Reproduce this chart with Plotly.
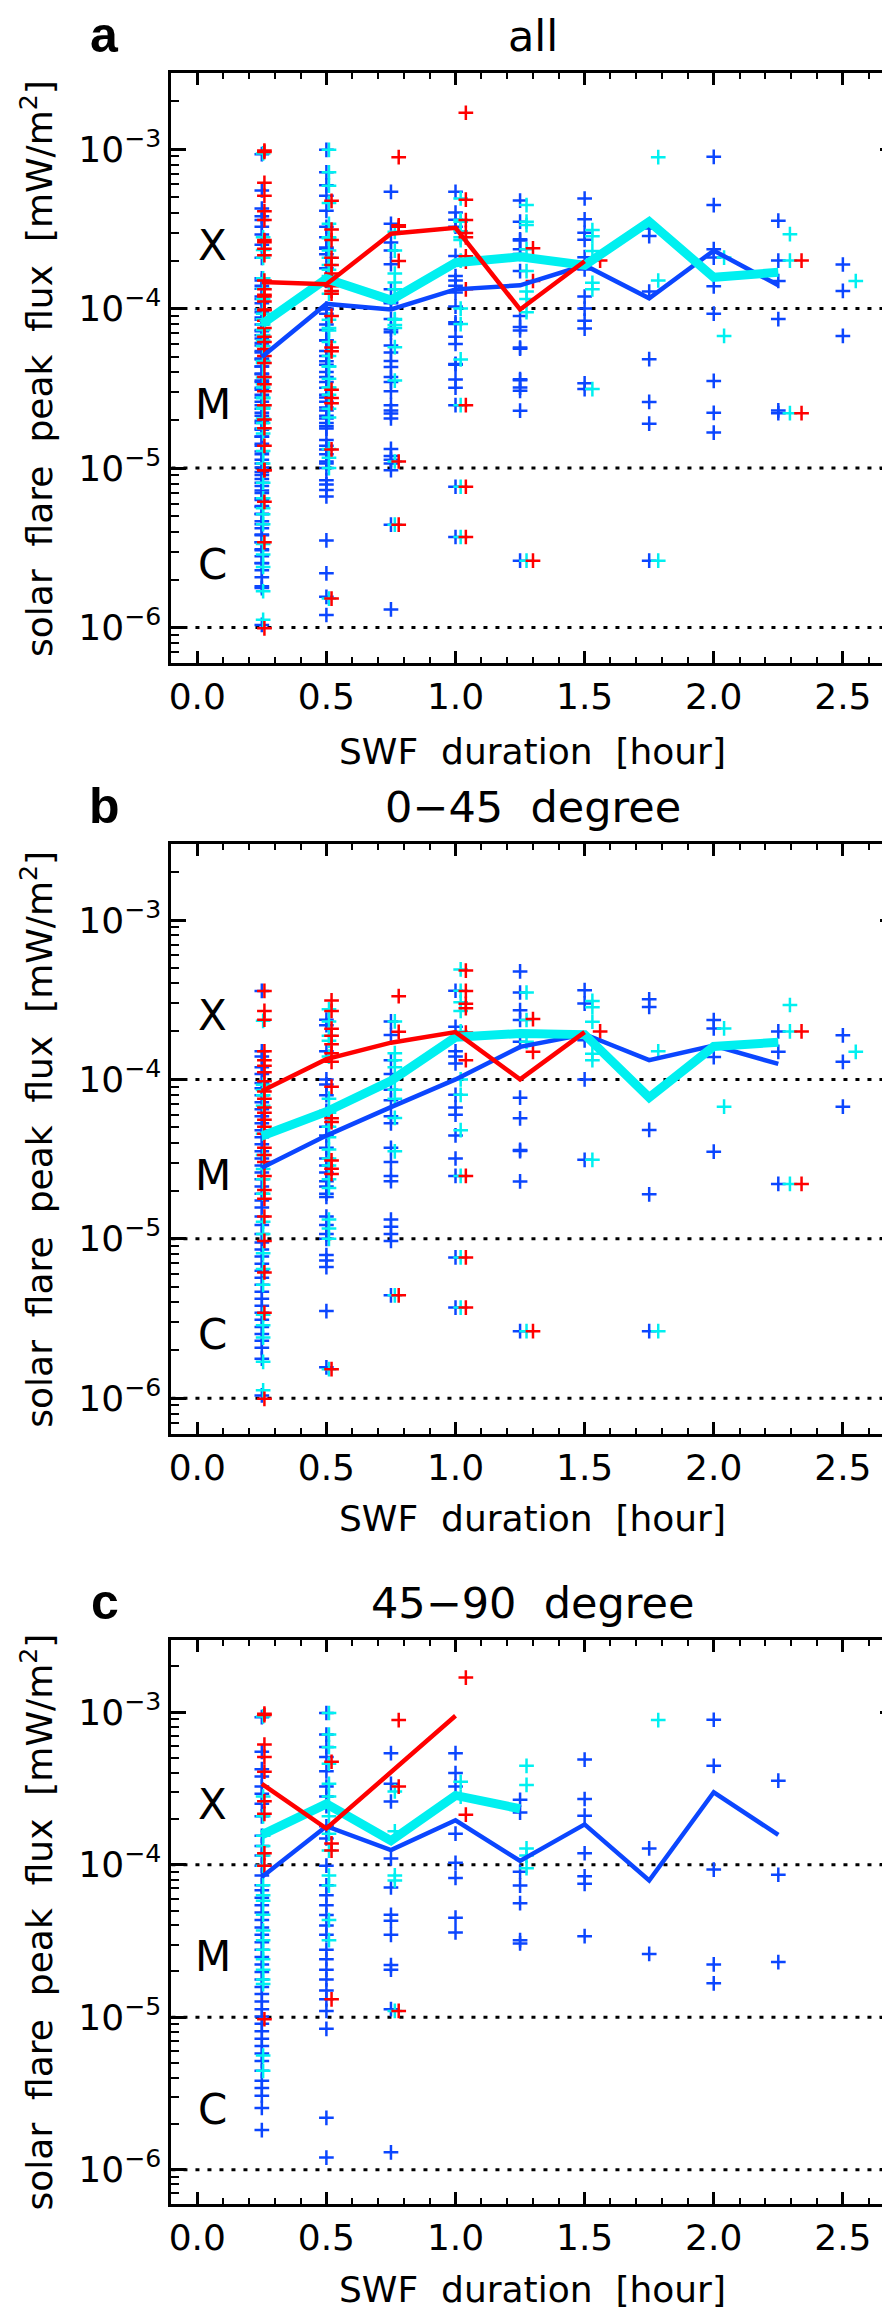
import math
import plotly.graph_objects as go

# ---------------- data (SWF duration [hour] -> solar flare peak flux [mW/m^2]) ----------------
DURATIONS = [0.25, 0.5, 0.75, 1.0, 1.25, 1.5, 1.75, 2.0, 2.25]

# panel b : 0-45 degree
b_blue = {
    0.25: [3.59e-4, 1.50e-4, 1.39e-4, 1.19e-4, 1.08e-4, 9.5e-5, 8.8e-5, 7.96e-5, 7.2e-5, 6.5e-5, 5.87e-5,
           5.31e-5, 4.8e-5, 4.33e-5, 3.92e-5, 3.54e-5, 3.19e-5, 2.88e-5, 2.61e-5, 2.36e-5, 2.13e-5, 1.92e-5,
           1.74e-5, 1.57e-5, 1.38e-5, 1.22e-5, 1.07e-5, 9.46e-6, 8.55e-6, 7.73e-6, 6.98e-6, 6.31e-6, 5.70e-6,
           5.14e-6, 4.65e-6, 4.2e-6, 3.8e-6, 3.43e-6, 3.1e-6, 2.8e-6, 2.53e-6, 2.29e-6, 2.07e-6, 1.77e-6, 1.04e-6],
    0.5: [2.37e-4, 2.19e-4, 1.5e-4, 1.0e-4, 9.3e-5, 7.96e-5, 6.34e-5, 5.04e-5, 4.45e-5, 3.72e-5, 3.19e-5,
          2.88e-5, 2.61e-5, 2.3e-5, 2.13e-5, 1.92e-5, 1.83e-5, 1.38e-5, 1.22e-5, 1.07e-5, 1.0e-5, 7.9e-6,
          7.3e-6, 6.64e-6, 3.52e-6, 1.56e-6],
    0.75: [2.31e-4, 1.9e-4, 1.32e-4, 1.08e-4, 8.6e-5, 7.4e-5, 5.87e-5, 5.3e-5, 3.72e-5, 3.03e-5, 2.48e-5,
           2.3e-5, 1.32e-5, 1.19e-5, 1.07e-5, 9.7e-6, 4.42e-6],
    1.0: [3.6e-4, 2.14e-4, 1.5e-4, 1.39e-4, 1.26e-4, 8.0e-5, 6.67e-5, 6.0e-5, 4.45e-5, 3.19e-5, 2.48e-5,
          7.64e-6, 3.7e-6],
    1.25: [4.76e-4, 3.51e-4, 2.72e-4, 2.36e-4, 1.72e-4, 7.68e-5, 5.7e-5, 3.61e-5, 3.55e-5, 2.29e-5, 2.63e-6],
    1.5: [3.63e-4, 2.99e-4, 1.76e-4, 1.0e-4, 3.13e-5],
    1.75: [3.18e-4, 2.85e-4, 4.82e-5, 1.9e-5, 2.63e-6],
    2.0: [2.36e-4, 2.09e-4, 1.38e-4, 3.52e-5],
    2.25: [2.0e-4, 1.49e-4, 2.21e-5],
    2.5: [1.89e-4, 1.29e-4, 6.74e-5],
}
b_cyan = {
    0.25: [2.33e-4, 9.27e-5, 8.59e-5, 7.96e-5, 6.84e-5, 4.56e-5, 3.36e-5, 2.74e-5, 2.36e-5, 1.92e-5, 1.28e-5,
           1.07e-5, 8.1e-6, 6.47e-6, 5.14e-6, 3.34e-6, 2.87e-6, 2.4e-6, 1.69e-6, 1.12e-6],
    0.5: [2.76e-4, 2.31e-4, 1.88e-4, 1.75e-4, 1.39e-4, 7.57e-5, 6.18e-5, 5.04e-5, 4.33e-5, 3.63e-5, 3.19e-5,
          2.88e-5, 2.36e-5, 2.08e-5, 1.32e-5, 1.16e-5, 1.0e-5, 1.52e-6],
    0.75: [2.31e-4, 1.46e-4, 1.32e-4, 1.19e-4, 8.6e-5, 7.57e-5, 5.73e-5, 3.54e-5, 4.42e-6],
    1.0: [4.9e-4, 3.6e-4, 3.05e-4, 2.69e-4, 2.0e-4, 1.0e-4, 8.0e-5, 4.8e-5, 2.48e-5, 7.64e-6, 3.7e-6],
    1.25: [3.51e-4, 2.36e-4, 1.72e-4, 2.63e-6],
    1.5: [3.11e-4, 2.84e-4, 2.30e-4, 1.45e-4, 1.32e-4, 3.13e-5],
    1.75: [1.5e-4, 2.63e-6],
    2.0: [2.09e-4, 6.74e-5],
    2.25: [2.93e-4, 2.0e-4, 2.21e-5],
    2.5: [1.49e-4],
}
b_red = {
    0.25: [3.59e-4, 2.69e-4, 2.37e-4, 1.5e-4, 1.32e-4, 1.22e-4, 1.11e-4, 9.75e-5, 8.4e-5, 7.57e-5, 6.67e-5,
           6.18e-5, 5.58e-5, 5.04e-5, 4.56e-5, 3.72e-5, 3.36e-5, 3.03e-5, 2.48e-5, 2.02e-5, 1.78e-5, 1.38e-5,
           9.7e-6, 6.15e-6, 3.43e-6, 9.9e-7],
    0.5: [3.13e-4, 2.69e-4, 2.08e-4, 1.88e-4, 1.66e-4, 1.46e-4, 1.29e-4, 9.0e-5, 5.7e-5, 5.4e-5, 3.1e-5,
          2.75e-5, 2.55e-5, 1.52e-6],
    0.75: [3.33e-4, 1.99e-4, 4.42e-6],
    1.0: [4.82e-4, 3.59e-4, 2.98e-4, 2.8e-4, 1.97e-4, 1.32e-4, 2.48e-5, 7.64e-6, 3.7e-6],
    1.25: [2.39e-4, 1.49e-4, 2.63e-6],
    1.5: [2.0e-4],
    2.25: [2.0e-4, 2.21e-5],
}

# panel c : 45-90 degree
c_blue = {
    0.25: [9.29e-4, 5.51e-4, 4.24e-4, 3.79e-4, 3.26e-4, 2.92e-4, 2.51e-4, 2.08e-4, 1.55e-4, 1.33e-4, 1.15e-4,
           9.87e-5, 8.51e-5, 7.33e-5, 6.8e-5, 6.08e-5, 5.43e-5, 4.86e-5, 4.34e-5, 3.88e-5, 3.47e-5, 3.1e-5,
           2.77e-5, 2.48e-5, 2.22e-5, 1.98e-5, 1.77e-5, 1.58e-5, 1.42e-5, 1.27e-5, 1.13e-5, 1.01e-5, 9.05e-6,
           8.09e-6, 7.23e-6, 6.47e-6, 5.78e-6, 5.17e-6, 4.45e-6, 3.83e-6, 3.43e-6, 3.06e-6, 2.54e-6, 1.82e-6],
    0.5: [9.9e-4, 7.15e-4, 5.93e-4, 5.1e-4, 4.1e-4, 3.26e-4, 2.8e-4, 2.42e-4, 1.79e-4, 1.49e-4, 9.87e-5,
          7.33e-5, 6.3e-5, 5.43e-5, 4.68e-5, 4.0e-5, 3.47e-5, 2.77e-5, 2.4e-5, 2.05e-5, 1.77e-5, 1.5e-5,
          1.31e-5, 1.1e-5, 8.4e-6, 2.19e-6, 1.2e-6],
    0.75: [5.4e-4, 3.4e-4, 2.6e-4, 1.1e-4, 7.1e-5, 4.7e-5, 4.3e-5, 3.47e-5, 2.2e-5, 2.05e-5, 1.13e-5, 1.3e-6],
    1.0: [5.4e-4, 4.0e-4, 3.26e-4, 1.6e-4, 1.03e-4, 8.2e-5, 4.5e-5, 3.6e-5],
    1.25: [2.67e-4, 2.2e-4, 9.0e-5, 7.3e-5, 5.6e-5, 3.2e-5, 3.05e-5],
    1.5: [4.9e-4, 2.7e-4, 2.1e-4, 1.19e-4, 8.4e-5, 7.5e-5, 3.4e-5],
    1.75: [1.28e-4, 2.6e-5],
    2.0: [8.94e-4, 4.46e-4, 9.3e-5, 2.22e-5, 1.67e-5],
    2.25: [3.56e-4, 8.6e-5, 2.3e-5],
}
c_cyan = {
    0.25: [9.4e-4, 2.8e-4, 2.08e-4, 1.55e-4, 1.33e-4, 1.15e-4, 9.87e-5, 7.33e-5, 6.3e-5, 5.8e-5, 4.7e-5,
           3.7e-5, 3.2e-5, 2.77e-5, 2.4e-5, 2.05e-5, 1.77e-5, 1.65e-5, 5.6e-6, 4.45e-6],
    0.5: [9.9e-4, 7.15e-4, 5.9e-4, 4.6e-4, 3.4e-4, 2.8e-4, 2.08e-4, 1.6e-4, 1.24e-4, 8.5e-5, 7.3e-5,
          4.34e-5, 3.2e-5],
    0.75: [3.03e-4, 1.66e-4, 8.51e-5, 7.9e-5, 1.1e-5],
    1.0: [3.5e-4, 2.8e-4],
    1.25: [4.46e-4, 3.34e-4, 1.28e-4, 1.15e-4, 9.5e-5],
    1.75: [8.9e-4],
}
c_red = {
    0.25: [9.8e-4, 9.6e-4, 6.15e-4, 5.1e-4, 4.08e-4, 2.61e-4, 2.16e-4, 1.19e-4, 9.87e-5, 9.7e-6],
    0.5: [4.74e-4, 1.38e-4, 1.24e-4, 1.31e-5],
    0.75: [8.9e-4, 3.26e-4, 1.1e-5],
    1.0: [1.69e-3, 2.13e-4],
}

# summary curves per panel
a_blue_line = [4.98e-5, 1.07e-4, 9.87e-5, 1.32e-4, 1.40e-4, 1.87e-4, 1.16e-4, 2.31e-4, 1.40e-4]
a_cyan_line = [8.0e-5, 1.54e-4, 1.13e-4, 1.94e-4, 2.11e-4, 1.87e-4, 3.51e-4, 1.57e-4, 1.69e-4]
a_red_line = [1.47e-4, 1.42e-4, 2.95e-4, 3.21e-4, 9.87e-5, 1.98e-4]
b_blue_line = [2.79e-5, 4.44e-5, 6.7e-5, 1.0e-4, 1.6e-4, 1.92e-4, 1.32e-4, 1.63e-4, 1.25e-4]
b_cyan_line = [4.42e-5, 6.27e-5, 9.8e-5, 1.84e-4, 1.94e-4, 1.91e-4, 7.7e-5, 1.61e-4, 1.71e-4]
b_red_line = [8.46e-5, 1.34e-4, 1.70e-4, 1.98e-4, 1.0e-4, 1.98e-4]
c_blue_line = [8.32e-5, 1.79e-4, 1.25e-4, 1.96e-4, 1.06e-4, 1.84e-4, 7.88e-5, 2.99e-4, 1.57e-4]
c_cyan_line = [1.57e-4, 2.51e-4, 1.44e-4, 2.85e-4, 2.33e-4]
c_red_line_x = [0.25, 0.5, 1.0]
c_red_line = [3.39e-4, 1.73e-4, 9.49e-4]

SP = " \u00a0"
TITLES = ["all", "0\u221245" + SP + "degree", "45\u221290" + SP + "degree"]
LETTERS = ["a", "b", "c"]
CLASSES = [("X", 2.5e-4), ("M", 2.5e-5), ("C", 2.5e-6)]
X_TICKS = [0.0, 0.5, 1.0, 1.5, 2.0, 2.5]
Y_TICKS = [1e-6, 1e-5, 1e-4, 1e-3]
LEVELS = [1e-4, 1e-5, 1e-6]
X_TITLE = "SWF" + SP + "duration" + SP + "[hour]"
Y_TITLE = "solar" + SP + "flare" + SP + "peak" + SP + "flux" + SP + "[mW/m<sup>2</sup>]"

# ---------------- styling ----------------
BLUE = "#0b46ff"
CYAN = "#00f0f0"
RED = "#ff0000"
OFFSET = {"blue": 1.0, "cyan": 1.02, "red": 1.04}
FONT = "DejaVu Sans"
W, H = 890, 2307
X_LEFT, X_RIGHT = 161, 886.5
PANELS_PX = [(65, 655), (836, 1425.5), (1631.6, 2195.5)]   # (top, bottom) pixel of each frame
XTITLE_PX = [743, 1510, 2281]


def merge(d1, d2):
    out = {}
    for d in (d1, d2):
        for k, v in d.items():
            out.setdefault(k, []).extend(v)
    return out


def flatten(d, factor):
    xs, ys = [], []
    for dur, vals in d.items():
        for v in vals:
            xs.append(dur * factor)
            ys.append(v)
    return xs, ys


panel_points = [
    (merge(b_blue, c_blue), merge(b_cyan, c_cyan), merge(b_red, c_red)),
    (b_blue, b_cyan, b_red),
    (c_blue, c_cyan, c_red),
]
panel_lines = [
    ((DURATIONS, a_blue_line), (DURATIONS, a_cyan_line), (DURATIONS[:6], a_red_line)),
    ((DURATIONS, b_blue_line), (DURATIONS, b_cyan_line), (DURATIONS[:6], b_red_line)),
    ((DURATIONS, c_blue_line), (DURATIONS[:5], c_cyan_line), (c_red_line_x, c_red_line)),
]

fig = go.Figure()


def py(p):
    return 1 - p / H


x_minor = [round(-0.1 + 0.1 * i, 1) for i in range(29)]
y_minor = [k * 10.0 ** e for e in range(-7, -2) for k in range(2, 10)]

for i in range(3):
    xa = "x" if i == 0 else f"x{i+1}"
    ya = "y" if i == 0 else f"y{i+1}"
    blue_d, cyan_d, red_d = panel_points[i]
    for d, col, key in ((blue_d, BLUE, "blue"), (cyan_d, CYAN, "cyan"), (red_d, RED, "red")):
        xs, ys = flatten(d, OFFSET[key])
        fig.add_trace(go.Scatter(x=xs, y=ys, mode="markers", xaxis=xa, yaxis=ya, showlegend=False,
                                 marker=dict(symbol="cross-thin", size=10.5, color=col,
                                             line=dict(width=2.5, color=col))))
    (bx, by), (cx, cy), (rx, ry) = panel_lines[i]
    fig.add_trace(go.Scatter(x=bx, y=by, mode="lines", xaxis=xa, yaxis=ya, showlegend=False,
                             line=dict(color=BLUE, width=4.5)))
    fig.add_trace(go.Scatter(x=cx, y=cy, mode="lines", xaxis=xa, yaxis=ya, showlegend=False,
                             line=dict(color=CYAN, width=9)))
    fig.add_trace(go.Scatter(x=rx, y=ry, mode="lines", xaxis=xa, yaxis=ya, showlegend=False,
                             line=dict(color=RED, width=4.5)))

    top, bot = PANELS_PX[i]
    xkey = "xaxis" if i == 0 else f"xaxis{i+1}"
    ykey = "yaxis" if i == 0 else f"yaxis{i+1}"
    fig.layout[xkey] = dict(
        domain=[X_LEFT / W, X_RIGHT / W], anchor=ya, range=[-0.1, 2.7],
        tickmode="array", tickvals=X_TICKS, ticktext=[f"{v:.1f}" for v in X_TICKS],
        ticks="inside", ticklen=12, tickwidth=3, tickcolor="black",
        minor=dict(tickmode="array", tickvals=x_minor, ticks="inside", ticklen=6, tickwidth=2,
                   tickcolor="black", showgrid=False),
        showline=True, linewidth=3, linecolor="black", mirror="ticks",
        showgrid=False, zeroline=False, ticklabelstandoff=0,
        tickfont=dict(family=FONT, size=36, color="black"))
    fig.layout[ykey] = dict(
        domain=[py(bot), py(top)], anchor=xa, type="log",
        range=[math.log10(6e-7), math.log10(3e-3)],
        tickmode="array", tickvals=Y_TICKS,
        ticktext=["10<sup>\u2212%d</sup>" % round(-math.log10(v)) for v in Y_TICKS],
        ticks="inside", ticklen=15, tickwidth=3, tickcolor="black",
        minor=dict(tickmode="array", tickvals=y_minor, ticks="inside", ticklen=8, tickwidth=2,
                   tickcolor="black", showgrid=False),
        showline=True, linewidth=3, linecolor="black", mirror="ticks",
        showgrid=False, zeroline=False, ticklabelstandoff=0,
        tickfont=dict(family=FONT, size=36, color="black"))

    for lv in LEVELS:
        fig.add_shape(type="line", xref=f"{xa} domain", yref=ya, x0=0, x1=1, y0=lv, y1=lv,
                      line=dict(color="black", width=3, dash="4px,8px"), layer="below")

    for txt, val in CLASSES:
        fig.add_annotation(x=0.06, y=math.log10(val), xref=xa, yref=ya, text=txt, showarrow=False,
                           font=dict(family=FONT, size=42, color="black"), xanchor="center",
                           yanchor="middle")

    cx_mid = (X_LEFT + X_RIGHT) / 2 / W
    # panel letter and title
    fig.add_annotation(x=94 / W, y=py(top - 38), xref="paper", yref="paper",
                       text=f"<b>{LETTERS[i]}</b>", showarrow=False,
                       font=dict(family="Liberation Sans", size=50, color="black"),
                       xanchor="center", yanchor="middle")
    fig.add_annotation(x=cx_mid, y=py(top - 37), xref="paper", yref="paper", text=TITLES[i],
                       showarrow=False, font=dict(family=FONT, size=43, color="black"),
                       xanchor="center", yanchor="middle")
    # axis titles
    fig.add_annotation(x=cx_mid, y=py(XTITLE_PX[i]), xref="paper", yref="paper",
                       text=X_TITLE, showarrow=False,
                       font=dict(family=FONT, size=36, color="black"),
                       xanchor="center", yanchor="middle")
    fig.add_annotation(x=26 / W, y=py((top + bot) / 2), xref="paper", yref="paper",
                       text=Y_TITLE, textangle=-90,
                       showarrow=False, font=dict(family=FONT, size=36, color="black"),
                       xanchor="center", yanchor="middle")

fig.update_layout(width=W, height=H, margin=dict(l=0, r=0, t=0, b=0),
                  paper_bgcolor="white", plot_bgcolor="white", showlegend=False)

fig.write_html("out.html")
